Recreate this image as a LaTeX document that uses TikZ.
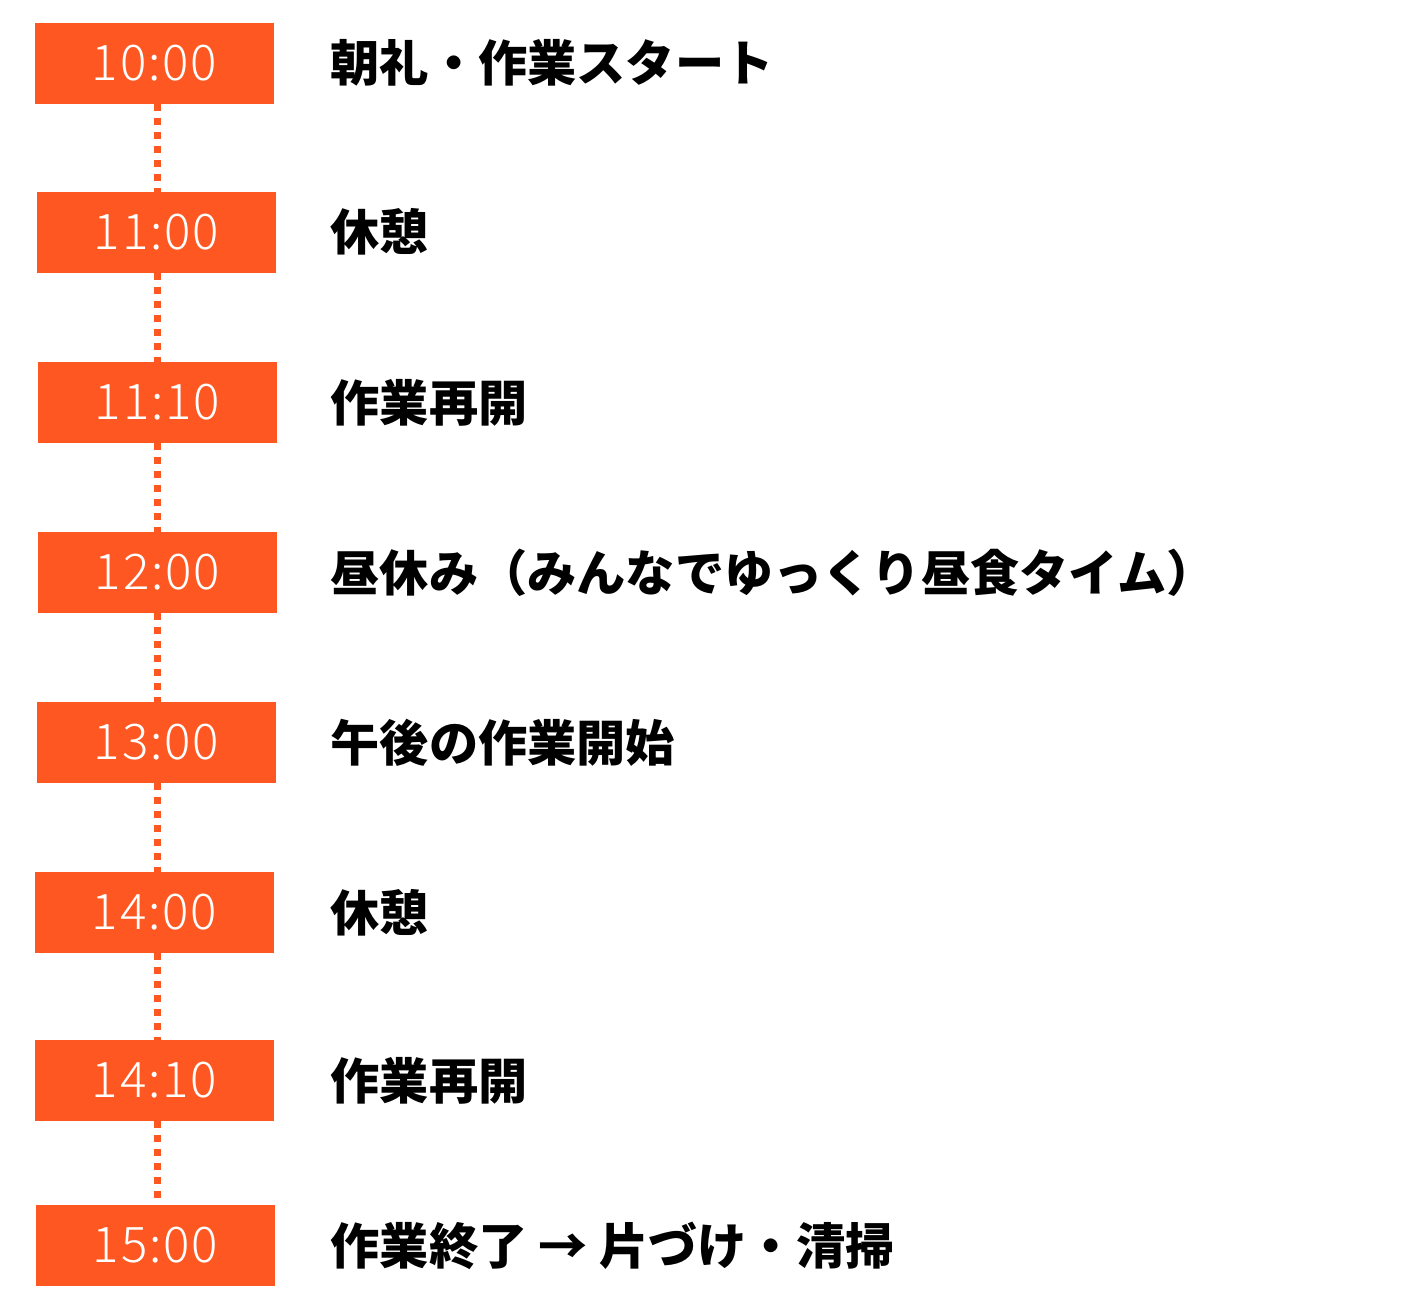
\documentclass[tikz,border=0pt]{standalone}
\usepackage{fontspec}
\newfontfamily\jpfont{Noto Sans CJK JP}
\newfontfamily\jplight{Noto Sans CJK JP Light}[LetterSpace=4]
\usetikzlibrary{positioning}
\definecolor{slotorange}{RGB}{255,87,34}
\tikzset{
  timebox/.style={
    rectangle, fill=slotorange,
    minimum width=2.39cm, minimum height=0.81cm,
    inner sep=0pt, outer sep=0pt, text=white,
    font=\jplight\fontsize{14}{15}\selectfont
  },
  activity/.style={
    anchor=west, inner sep=0pt,
    font=\jpfont\bfseries\fontsize{14}{15}\selectfont
  },
  link/.style={
    draw=slotorange, line width=1.9pt,
    dash pattern=on 2pt off 2pt
  }
}

\begin{document}
\begin{tikzpicture}

\useasboundingbox (0,0) rectangle (14.14,-13.12);

% ═══════════════════════════════════════════════════════════════════
% TIME SLOTS
% ═══════════════════════════════════════════════════════════════════

\node[timebox] (t1000) at (1.545,-0.63) {10:00};
\node[timebox, below=0.88cm of t1000, xshift=0.02cm] (t1100) {11:00};
\node[timebox, below=0.895cm of t1100, xshift=0.01cm] (t1110) {11:10};
\node[timebox, below=0.89cm of t1110] (t1200) {12:00};
\node[timebox, below=0.89cm of t1200, xshift=-0.01cm] (t1300) {13:00};
\node[timebox, below=0.89cm of t1300, xshift=-0.02cm] (t1400) {14:00};
\node[timebox, below=0.87cm of t1400] (t1410) {14:10};
\node[timebox, below=0.84cm of t1410, xshift=0.01cm] (t1500) {15:00};

% ═══════════════════════════════════════════════════════════════════
% ACTIVITIES
% ═══════════════════════════════════════════════════════════════════

\node[activity] (a1000) at ([xshift=0.56cm]t1000.east) {朝礼・作業スタート};
\node[activity] (a1100) at (a1000.west |- t1100) {休憩};
\node[activity] (a1110) at (a1000.west |- t1110) {作業再開};
\node[activity] (a1200) at (a1000.west |- t1200) {昼休み（みんなでゆっくり昼食タイム）};
\node[activity] (a1300) at (a1000.west |- t1300) {午後の作業開始};
\node[activity] (a1400) at (a1000.west |- t1400) {休憩};
\node[activity] (a1410) at (a1000.west |- t1410) {作業再開};
\node[activity] (a1500) at (a1000.west |- t1500) {作業終了 → 片づけ・清掃};

% ═══════════════════════════════════════════════════════════════════
% DOTTED LINKS
% ═══════════════════════════════════════════════════════════════════

\coordinate (axis) at (1.575,0);
\draw[link] (t1000.south -| axis) -- (t1100.north -| axis);
\draw[link] (t1100.south -| axis) -- (t1110.north -| axis);
\draw[link] (t1110.south -| axis) -- (t1200.north -| axis);
\draw[link] (t1200.south -| axis) -- (t1300.north -| axis);
\draw[link] (t1300.south -| axis) -- (t1400.north -| axis);
\draw[link] (t1400.south -| axis) -- (t1410.north -| axis);
\draw[link] (t1410.south -| axis) -- (t1500.north -| axis);

\end{tikzpicture}
\end{document}
